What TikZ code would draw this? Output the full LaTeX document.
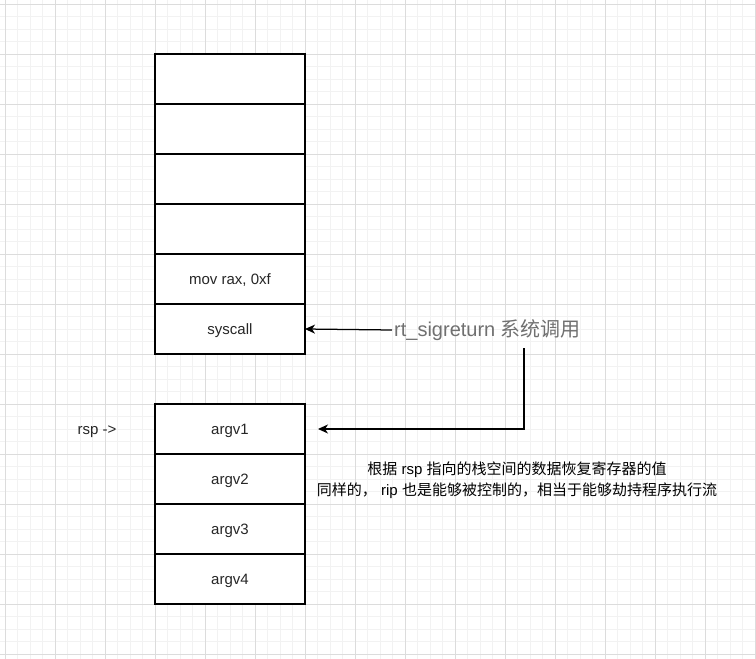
\documentclass[tikz,border=0pt]{standalone}
\usepackage{fontspec}
\setmainfont{Liberation Sans}
\newfontfamily\cjk{Noto Sans CJK SC}
\usetikzlibrary{arrows.meta}
\definecolor{gridminor}{HTML}{F2F2F2}
\definecolor{gridmajor}{HTML}{DCDCDC}
\definecolor{labelgray}{HTML}{707070}
\begin{document}
\begin{tikzpicture}[x=1pt,y=-1pt,
  cell/.style={draw=black, line width=1.25pt, fill=white, minimum width=150pt, minimum height=50pt, inner sep=0pt, outer sep=0pt, text depth=0pt, font=\fontsize{15}{18}\selectfont, text=black!85},
  plain/.style={inner sep=0pt, font=\fontsize{15}{21}\selectfont},
  conn/.style={line width=1.25pt, -{Stealth[length=10pt, width=9pt, inset=3pt]}}
]
\useasboundingbox (0,0) rectangle (756,659);
\fill[white] (0,0) rectangle (756,659);
% grid
\foreach \i in {0,...,61} {
  \draw[gridminor, line width=1pt] ({5+12.5*(\i-1)},0) -- ({5+12.5*(\i-1)},659);
}
\foreach \i in {0,...,54} {
  \draw[gridminor, line width=1pt] (0,{4+12.5*(\i-1)}) -- (756,{4+12.5*(\i-1)});
}
\foreach \i in {0,...,15} {
  \draw[gridmajor, line width=1pt] ({5+50*\i},0) -- ({5+50*\i},659);
}
\foreach \i in {0,...,13} {
  \draw[gridmajor, line width=1pt] (0,{4+50*\i}) -- (756,{4+50*\i});
}
% upper stack
\node[cell] (s1) at (230,79) {};
\node[cell] (s2) at (230,129) {};
\node[cell] (s3) at (230,179) {};
\node[cell] (s4) at (230,229) {};
\node[cell] (s5) at (230,279) {mov rax, 0xf};
\node[cell] (s6) at (230,329) {syscall};
% lower stack
\node[cell] (a1) at (230,429) {argv1};
\node[cell] (a2) at (230,479) {argv2};
\node[cell] (a3) at (230,529) {argv3};
\node[cell] (a4) at (230,579) {argv4};
% labels
\node[plain, text depth=0pt, text=black!85] (rsp) at (97,430) {rsp ->};
\node[inner sep=2pt, anchor=west, text=labelgray, font=\fontsize{20}{24}\selectfont] (rt) at (392,330) {rt\_sigreturn {\cjk 系统调用}};
\node[plain, align=center, text=black] (note) at (517,480.5) {{\cjk 根据} rsp {\cjk 指向的栈空间的数据恢复寄存器的值}\\{\cjk 同样的，} rip {\cjk 也是能够被控制的，相当于能够劫持程序执行流}};
% connectors
\draw[conn] (rt.west) -- (s6.east);
\coordinate (c1) at (524,348);
\draw[conn] (c1) |- ([xshift=13pt]a1.east);
\end{tikzpicture}
\end{document}
